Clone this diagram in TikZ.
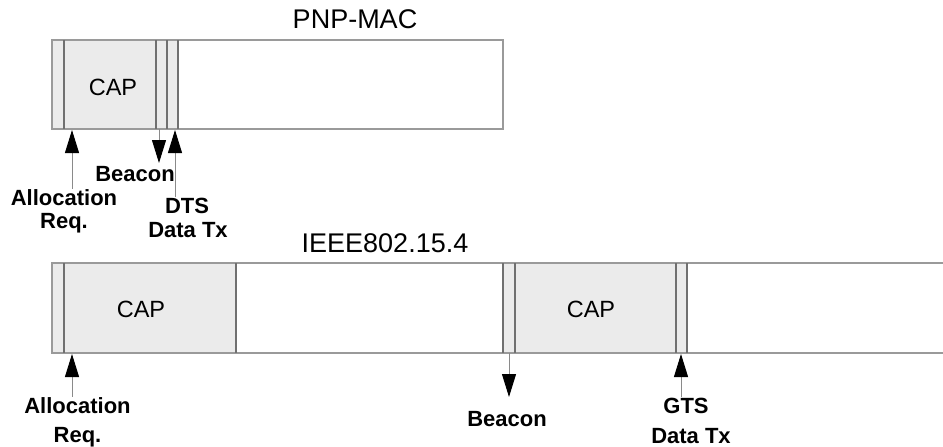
\documentclass[tikz,border=0pt]{standalone}
\usepackage{fontspec}
\setmainfont{Liberation Sans}
\usetikzlibrary{arrows.meta}
\definecolor{slotfill}{HTML}{EBEBEB}
\definecolor{framegray}{HTML}{9A9A9A}
\definecolor{divgray}{HTML}{707070}
\definecolor{shaftgray}{HTML}{8A8A8A}
\begin{document}
\begin{tikzpicture}[x=1pt,y=-1pt,
  frame/.style={draw=framegray, line width=1.3pt},
  divider/.style={draw=divgray, line width=1.3pt},
  lbl/.style={font=\fontsize{22}{26}\selectfont\bfseries, inner sep=0pt, anchor=base},
  ttl/.style={font=\fontsize{27}{32}\selectfont, inner sep=0pt, anchor=base},
  slot/.style={font=\fontsize{23.5}{28}\selectfont, inner sep=0pt},
  evt/.style={draw=shaftgray, line width=0.9pt,
    -{Triangle[length=23pt,width=14pt,color=black]}}
]
\useasboundingbox (0,0) rectangle (943,447);

% ---------- PNP-MAC superframe ----------
\node[ttl] (pnpTitle) at (355,28) {PNP-MAC};
\fill[slotfill] (52,40) rectangle (178,129);
\draw[frame] (52,40) rectangle (503,129);
\foreach \x in {64,156,167,178} \draw[divider] (\x,40) -- (\x,129);
\node[slot] (pnpCap) at (113,87) {CAP};

\coordinate (pAlloc) at (72,130);
\node[lbl] (pAllocL1) at (64,205) {Allocation};
\node[lbl] (pAllocL2) at (64,228) {Req.};
\draw[evt] (pAllocL1.north -| pAlloc) -- (pAlloc);

\coordinate (pBcn) at (159,129);
\coordinate (pBcnTip) at (159,163);
\node[lbl] (pBcnL) at (135,181) {Beacon};
\draw[evt] (pBcn) -- (pBcnTip);

\coordinate (pDts) at (175,130);
\node[lbl] (pDtsL1) at (187,213) {DTS};
\node[lbl] (pDtsL2) at (188,237) {Data Tx};
\draw[evt] (pDtsL1.north -| pDts) -- (pDts);

% ---------- IEEE 802.15.4 superframe ----------
\node[ttl] (ieeeTitle) at (385,252) {IEEE802.15.4};
\fill[slotfill] (52,263) rectangle (236,353);
\fill[slotfill] (503,263) rectangle (687,353);
\draw[frame] (943,263) -- (52,263) -- (52,353) -- (943,353);
\foreach \x in {64,236,503,515,676,687} \draw[divider] (\x,263) -- (\x,353);
\node[slot] (ieeeCapA) at (141,309) {CAP};
\node[slot] (ieeeCapB) at (591,309) {CAP};

\coordinate (iAlloc) at (72,354);
\node[lbl] (iAllocL1) at (77.5,413) {Allocation};
\node[lbl] (iAllocL2) at (77.5,442) {Req.};
\draw[evt] (iAllocL1.north -| iAlloc) -- (iAlloc);

\coordinate (iBcn) at (509,353);
\coordinate (iBcnTip) at (509,397);
\node[lbl] (iBcnL) at (507,426) {Beacon};
\draw[evt] (iBcn) -- (iBcnTip);

\coordinate (iGts) at (681,354);
\node[lbl] (iGtsL1) at (686,413) {GTS};
\node[lbl] (iGtsL2) at (691,443) {Data Tx};
\draw[evt] (iGtsL1.north -| iGts) -- (iGts);
\end{tikzpicture}
\end{document}
